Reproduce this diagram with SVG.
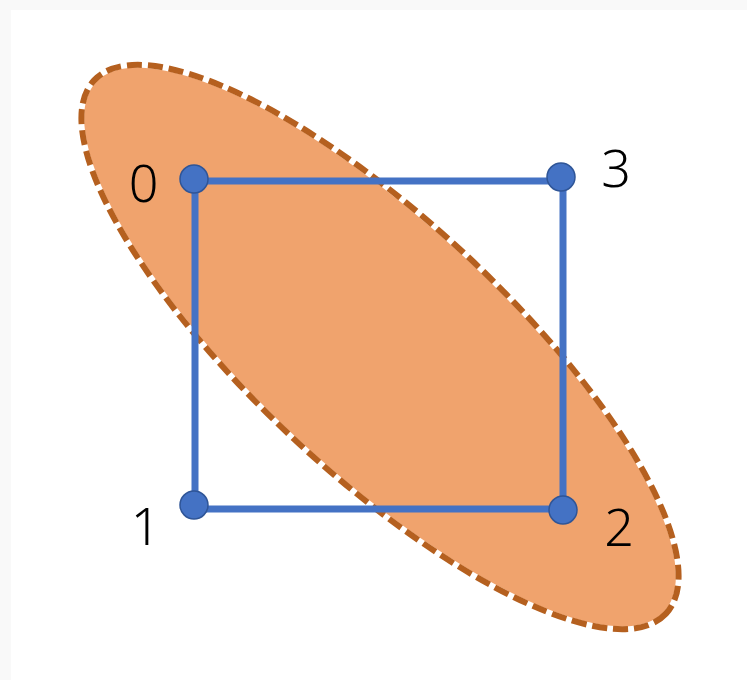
<svg xmlns="http://www.w3.org/2000/svg" width="747" height="680" viewBox="0 0 747 680">
  <style>
    .edge { stroke: #4472C4; stroke-width: 7; fill: none; stroke-linecap: butt; }
    .node { fill: #4472C4; stroke: #2F5597; stroke-width: 1.5; }
    .label { font-family: "Noto Sans", "Liberation Sans", sans-serif; font-size: 52px; font-weight: 300; fill: #000000; text-anchor: middle; }
  </style>
  <rect x="0" y="0" width="747" height="680" fill="#F9F9F9"/>
  <rect x="11" y="10" width="736" height="670" fill="#FFFFFF"/>
  <g id="region">
    <ellipse cx="380" cy="347" rx="391" ry="126" transform="rotate(43 380 347)" fill="#F0A36D" stroke="#FFFFFF" stroke-width="5.5"/>
    <ellipse cx="380" cy="347" rx="391" ry="126" transform="rotate(43 380 347)" fill="none" stroke="#B5601F" stroke-width="6" stroke-dasharray="15 6"/>
  </g>
  <g id="connectors">
    <line class="edge" x1="194" y1="181" x2="563" y2="181"/>
    <line class="edge" x1="195" y1="179" x2="195" y2="509"/>
    <line class="edge" x1="563" y1="177" x2="563" y2="510"/>
    <line class="edge" x1="194" y1="509" x2="563" y2="509"/>
  </g>
  <g id="node0">
    <circle class="node" cx="194" cy="179" r="14"/>
    <text class="label" x="143.5" y="202">0</text>
  </g>
  <g id="node3">
    <circle class="node" cx="561" cy="177" r="14"/>
    <text class="label" x="616" y="187">3</text>
  </g>
  <g id="node1">
    <circle class="node" cx="194" cy="505" r="14"/>
    <text class="label" x="145.5" y="545">1</text>
  </g>
  <g id="node2">
    <circle class="node" cx="563" cy="510" r="14"/>
    <text class="label" x="619" y="546">2</text>
  </g>
</svg>
